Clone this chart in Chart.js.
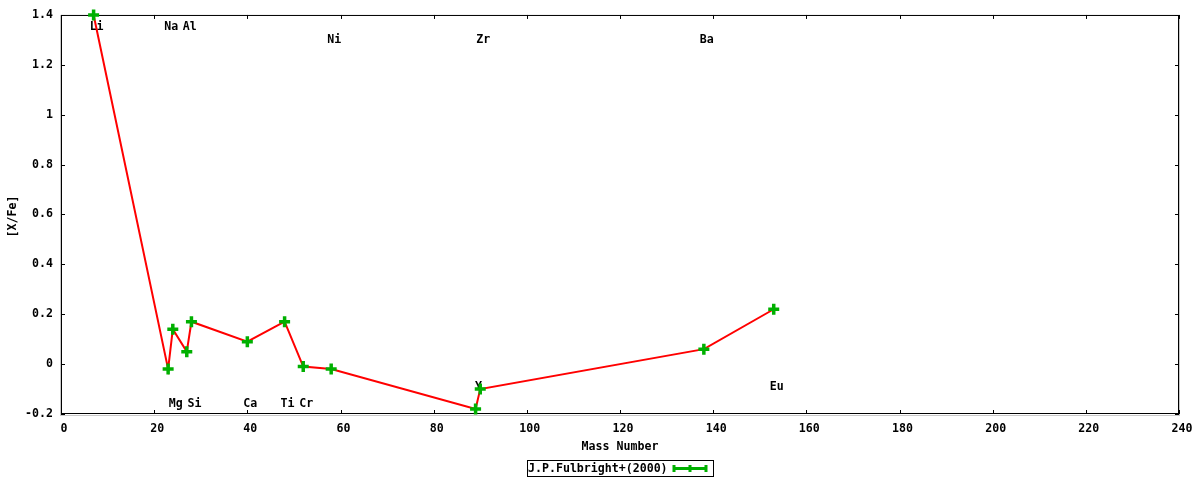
<!DOCTYPE html>
<html>
<head>
<meta charset="utf-8">
<script src="https://cdn.jsdelivr.net/npm/chart.js@4/dist/chart.umd.min.js"></script>
<style>
  body { margin: 0; background: #fff; }
  #wrap { width: 1200px; height: 480px; }
</style>
</head>
<body>
<div id="wrap"><canvas id="abundChart"></canvas></div>
<script>
// measured points: mass number vs [X/Fe]
const massNumbers = [7, 23, 24, 27, 28, 40, 48, 52, 58, 89, 90, 138, 153];
const xFeValues = [1.40, -0.02, 0.14, 0.05, 0.17, 0.09, 0.17, -0.01, -0.02, -0.18, -0.10, 0.06, 0.22];

// element labels placed in data coordinates
const labelNames = ['Li', 'Na', 'Al', 'Ni', 'Zr', 'Ba', 'Mg', 'Si', 'Ca', 'Ti', 'Cr', 'Y', 'Eu'];
const labelMass = [7, 23, 27, 58, 90, 138, 24, 28, 40, 48, 52, 89, 153];
const labelLevel = [1.35, 1.35, 1.35, 1.30, 1.30, 1.30, -0.16, -0.16, -0.16, -0.16, -0.16, -0.09, -0.09];

const xTicks = [0, 20, 40, 60, 80, 100, 120, 140, 160, 180, 200, 220, 240];
const yTicks = [-0.2, 0, 0.2, 0.4, 0.6, 0.8, 1, 1.2, 1.4];

const seriesName = 'J.P.Fulbright+(2000)';
const FONT = 'bold 11.6px "DejaVu Sans Mono", "Liberation Mono", monospace';
const tickFont = { family: '"DejaVu Sans Mono"', weight: 'bold', size: 11.6 };
const GREEN = '#00b000';

const points = massNumbers.map((m, i) => ({ x: m, y: xFeValues[i] }));

const gnuplotFrame = {
  id: 'gnuplotFrame',
  beforeDatasetsDraw(chart) {
    const { ctx, chartArea: a, scales: { x, y } } = chart;
    ctx.save();

    // element labels (drawn under the line like the original)
    ctx.font = FONT;
    ctx.fillStyle = '#000';
    ctx.textAlign = 'center';
    ctx.textBaseline = 'middle';
    labelNames.forEach((name, i) => {
      ctx.fillText(name, x.getPixelForValue(labelMass[i]) + 3, y.getPixelForValue(labelLevel[i]));
    });

    // frame with a faint shadow
    ctx.strokeStyle = '#c8c8c8';
    ctx.lineWidth = 1;
    ctx.strokeRect(a.left - 0.5, a.top + 0.5, a.right - a.left + 1, a.bottom - a.top + 1);
    ctx.strokeStyle = '#000';
    ctx.strokeRect(a.left + 0.5, a.top + 0.5, a.right - a.left - 1, a.bottom - a.top - 1);

    // inward ticks on all four sides
    ctx.beginPath();
    xTicks.forEach(v => {
      const px = Math.round(x.getPixelForValue(v)) + 0.5;
      ctx.moveTo(px, a.bottom); ctx.lineTo(px, a.bottom - 4);
      ctx.moveTo(px, a.top); ctx.lineTo(px, a.top + 4);
    });
    yTicks.forEach(v => {
      const py = Math.round(y.getPixelForValue(v)) + 0.5;
      ctx.moveTo(a.left, py); ctx.lineTo(a.left + 4, py);
      ctx.moveTo(a.right, py); ctx.lineTo(a.right - 4, py);
    });
    ctx.stroke();

    // axis titles
    ctx.fillText('Mass Number', (a.left + a.right) / 2, 447);
    ctx.translate(13, (a.top + a.bottom) / 2 + 2);
    ctx.rotate(-Math.PI / 2);
    ctx.fillText('[X/Fe]', 0, 0);
    ctx.restore();
  },
  afterDraw(chart) {
    const { ctx } = chart;
    ctx.save();
    // key box
    ctx.strokeStyle = '#000';
    ctx.lineWidth = 1;
    ctx.strokeRect(527.5, 460.5, 186, 16);
    ctx.font = FONT;
    ctx.fillStyle = '#000';
    ctx.textAlign = 'left';
    ctx.textBaseline = 'middle';
    ctx.fillText(seriesName, 528, 469);
    ctx.strokeStyle = GREEN;
    ctx.lineWidth = 3;
    ctx.beginPath();
    ctx.moveTo(673, 468.5); ctx.lineTo(707, 468.5);
    [674, 690, 706].forEach(px => { ctx.moveTo(px, 465); ctx.lineTo(px, 472); });
    ctx.stroke();
    ctx.restore();
  }
};

new Chart(document.getElementById('abundChart'), {
  type: 'scatter',
  data: {
    datasets: [{
      label: seriesName,
      data: points,
      showLine: true,
      borderColor: '#ff0000',
      borderWidth: 2,
      pointStyle: 'cross',
      pointRadius: 5.5,
      pointBorderWidth: 3.5,
      pointBorderColor: GREEN,
      pointBackgroundColor: GREEN,
      pointHoverRadius: 5.5,
      clip: false
    }]
  },
  options: {
    responsive: true,
    maintainAspectRatio: false,
    animation: false,
    layout: { padding: { top: 13, right: 21, left: 0, bottom: 0 } },
    plugins: { legend: { display: false }, tooltip: { enabled: false } },
    scales: {
      x: {
        type: 'linear',
        min: 0,
        max: 240,
        afterFit: s => { s.height = 66; },
        afterBuildTicks: s => { s.ticks = xTicks.map(v => ({ value: v })); },
        grid: { display: false, drawTicks: false },
        border: { display: false },
        ticks: { color: '#000', font: tickFont, padding: 8, labelOffset: 3, maxRotation: 0 }
      },
      y: {
        type: 'linear',
        min: -0.2,
        max: 1.4,
        afterFit: s => { s.width = 61; },
        afterBuildTicks: s => { s.ticks = yTicks.map(v => ({ value: v })); },
        grid: { display: false, drawTicks: false },
        border: { display: false },
        ticks: {
          color: '#000',
          font: tickFont,
          padding: 8,
          callback: v => String(+v.toFixed(1))
        }
      }
    }
  },
  plugins: [gnuplotFrame]
});
</script>
</body>
</html>
